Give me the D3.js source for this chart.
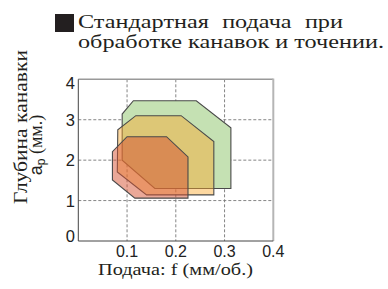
<!DOCTYPE html>
<html><head><meta charset="utf-8">
<script src="https://cdn.jsdelivr.net/npm/d3@7"></script>
<style>body{margin:0;background:#fff}svg{display:block}</style>
</head><body>
<svg id="c" width="388" height="289"></svg>
<script>
const xTicks = [0.1, 0.2, 0.3, 0.4];
const yTicks = [0, 1, 2, 3, 4];
const zoneGreen  = [[0.113,3.47],[0.242,3.47],[0.313,2.80],[0.313,1.30],[0.157,1.30],[0.090,2.00],[0.090,3.14]];
const zoneYellow = [[0.118,3.10],[0.211,3.10],[0.278,2.46],[0.278,1.14],[0.140,1.14],[0.080,1.71],[0.081,2.75]];
const zoneRed    = [[0.100,2.58],[0.181,2.58],[0.225,2.08],[0.225,1.06],[0.116,1.06],[0.070,1.51],[0.070,2.21]];
const titleLines = ["Стандартная подача при", "обработке канавок и точении."];
const yLabel1 = "Глубина канавки";
const xLabel = "Подача: f (мм/об.)";

const svg = d3.select("#c");
const L = 78.3, R = 273.3, T = 79.3, B = 241;
const x = d3.scaleLinear().domain([0, 0.4]).range([L, R]);
const y = d3.scaleLinear().domain([0, 4]).range([B, T]);
const serif = "'Liberation Serif','DejaVu Serif',serif";
const sans = "'Liberation Sans',Arial,sans-serif";

// grid
const g = svg.append("g");
g.selectAll(".gx").data(xTicks.filter(d => d < 0.4)).join("line")
  .attr("x1", d => x(d)).attr("x2", d => x(d)).attr("y1", T).attr("y2", B)
  .attr("stroke", "#777").attr("stroke-dasharray", "3,2").attr("stroke-width", 0.9);
g.selectAll(".gy").data(yTicks.filter(d => d > 0 && d < 4)).join("line")
  .attr("y1", d => y(d)).attr("y2", d => y(d)).attr("x1", L).attr("x2", R)
  .attr("stroke", "#777").attr("stroke-dasharray", "3,2").attr("stroke-width", 0.9);

// zones
const line = d3.line().x(d => x(d[0])).y(d => y(d[1]));
const zones = [
  {pts: zoneGreen, fill: "#c5e1b3", op: 1},
  {pts: zoneYellow, fill: "rgb(251,169,44)", op: 0.45},
  {pts: zoneRed, fill: "rgb(213,81,49)", op: 0.5}
];
zones.forEach(z => {
  svg.append("path").attr("d", line(z.pts) + "Z")
    .attr("fill", z.fill).attr("fill-opacity", z.op)
    .attr("stroke", "#4a4a4a").attr("stroke-width", 1.1).attr("stroke-linejoin", "miter");
});

// frame
svg.append("line").attr("x1", L).attr("x2", R).attr("y1", T).attr("y2", T).attr("stroke", "#999").attr("stroke-width", 1.5);
svg.append("line").attr("x1", R).attr("x2", R).attr("y1", T - 0.75).attr("y2", B).attr("stroke", "#b5b5b5").attr("stroke-width", 2);
svg.append("line").attr("x1", L).attr("x2", L).attr("y1", T).attr("y2", B).attr("stroke", "#444").attr("stroke-width", 1);
svg.append("line").attr("x1", L).attr("x2", R).attr("y1", B).attr("y2", B).attr("stroke", "#444").attr("stroke-width", 1);

// tick labels
svg.selectAll(".xt").data(xTicks).join("text")
  .attr("x", d => x(d)).attr("y", 256.5).attr("text-anchor", "middle")
  .attr("font-family", sans).attr("font-size", 16).attr("fill", "#222")
  .text(d => d.toFixed(1));
const yNudge = {0: -5, 4: 4};
svg.selectAll(".yt").data(yTicks).join("text")
  .attr("x", 75).attr("y", d => y(d) + (yNudge[d] || 0)).attr("dy", "0.36em").attr("text-anchor", "end")
  .attr("font-family", sans).attr("font-size", 16.5).attr("fill", "#222")
  .text(d => d);

// title
svg.append("rect").attr("x", 55).attr("y", 14).attr("width", 19).attr("height", 18).attr("fill", "#231f20");
const fs = 19.5;
const tg = svg.append("g");
const t2 = tg.append("text").attr("x", 0).attr("y", 48).attr("font-family", serif).attr("font-size", fs)
  .attr("fill", "#231f20").text(titleLines[1]);
const s = 306 / t2.node().getComputedTextLength();
const words = titleLines[0].split(" ");
const t1 = tg.append("text").attr("x", 0).attr("y", 28.3).attr("font-family", serif).attr("font-size", fs)
  .attr("fill", "#231f20").text(titleLines[0]);
const w1 = t1.node().getComputedTextLength();
const extra = (265 / s - w1) / (words.length - 1);
t1.attr("word-spacing", extra);
tg.attr("transform", `translate(78,0) scale(${s},1)`);

// y label
const yl1 = svg.append("text").attr("text-anchor", "middle")
  .attr("font-family", serif).attr("font-size", 19).attr("fill", "#231f20").text(yLabel1);
const sy = 154 / yl1.node().getComputedTextLength();
yl1.attr("transform", `translate(27,127) rotate(-90) scale(${sy},1)`);
const yl2 = svg.append("text").attr("transform", "translate(42,145) rotate(-90)").attr("text-anchor", "middle")
  .attr("fill", "#231f20");
yl2.append("tspan").attr("font-family", sans).attr("font-size", 18).text("a");
yl2.append("tspan").attr("font-family", sans).attr("font-size", 12).attr("dy", 3).text("p");
yl2.append("tspan").attr("font-family", serif).attr("font-size", 18).attr("dy", -3).text(" (мм.)");

// x label
const xl = svg.append("text").attr("text-anchor", "middle")
  .attr("font-family", serif).attr("font-size", 16.5).attr("fill", "#231f20").text(xLabel);
const sx = 155 / xl.node().getComputedTextLength();
xl.attr("transform", `translate(175.5,275) scale(${sx},1)`);
</script>
</body></html>
